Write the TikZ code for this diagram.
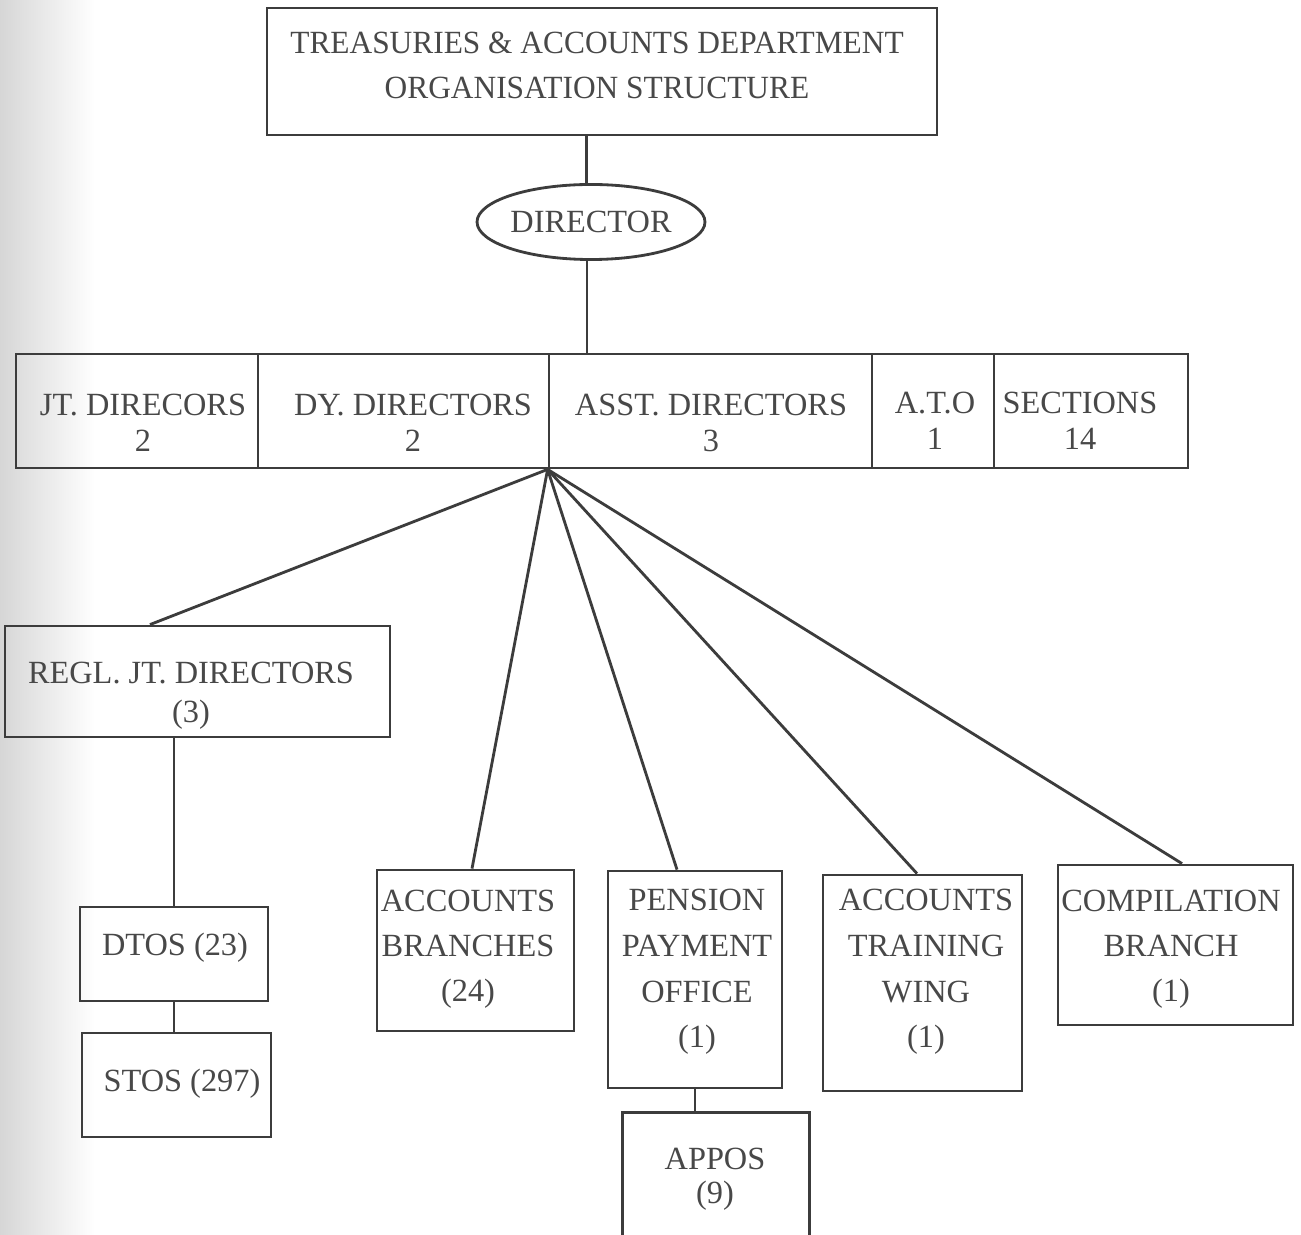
\documentclass[tikz,border=0pt]{standalone}
\usepackage{fontspec}
\setmainfont{Liberation Serif}
\newfontfamily\titlefont[FakeStretch=0.97]{Liberation Serif}
\usetikzlibrary{fit,shapes.geometric}
\definecolor{ink}{HTML}{3C3C3C}
\definecolor{txt}{HTML}{484848}
\begin{document}
\begin{tikzpicture}[x=0.01cm,y=-0.01cm,
  boxn/.style={draw=ink, line width=0.8pt, inner sep=0pt, fit={#1}},
  openbox/.style={inner sep=0pt, fit={#1}},
  lbl/.style={text=txt, align=center, inner sep=0pt, font=\fontsize{9.2}{#1}\selectfont},
  lbl/.default=12.8pt,
  conn/.style={draw=ink, line width=0.8pt}]
\useasboundingbox (0,0) rectangle (1301,1234);
\fill[white] (0,0) rectangle (1301,1234);
\shade[left color=black!16, right color=white] (0,0) rectangle (95,1234);

% title
\node[boxn={(267,8) (937,135)}] (title) {};
\node[lbl, font=\titlefont\fontsize{9.2}{12.8pt}\selectfont] (titlet) at (597,65) {TREASURIES \& ACCOUNTS DEPARTMENT\\ORGANISATION STRUCTURE};

% director
\node[ellipse, draw=ink, line width=0.8pt, minimum width=2.21cm, minimum height=0.75cm, lbl] (dir) at (591,222) {DIRECTOR};

% row of cells
\node[boxn={(16,354) (258,468)}] (jt) {};
\node[boxn={(258,354) (549,468)}] (dy) {};
\node[boxn={(549,354) (872,468)}] (asst) {};
\node[boxn={(872,354) (994,468)}] (ato) {};
\node[boxn={(994,354) (1188,468)}] (sec) {};
\node[lbl=10.2pt] (jtt) at (143,423) {JT. DIRECORS\\2};
\node[lbl=10.2pt] (dyt) at (413,423) {DY. DIRECTORS\\2};
\node[lbl=10.2pt] (asstt) at (711,423) {ASST. DIRECTORS\\3};
\node[lbl=10.2pt] (atot) at (935,421) {A.T.O\\1};
\node[lbl=10.2pt] (sect) at (1080,421) {SECTIONS\\14};

% lower boxes
\node[boxn={(5,626) (390,737)}] (regl) {};
\node[lbl=11pt] (reglt) at (191,696) {REGL. JT. DIRECTORS\\(3)};
\node[boxn={(80,907) (268,1001)}] (dtos) {};
\node[lbl] (dtost) at (175,948) {DTOS (23)};
\node[boxn={(82,1033) (271,1137)}] (stos) {};
\node[lbl] (stost) at (182,1084) {STOS (297)};

\node[boxn={(377,870) (574,1031)}] (acc) {};
\node[lbl] (acct) at (468,949) {ACCOUNTS\\BRANCHES\\(24)};
\node[boxn={(608,871) (782,1088)}] (pen) {};
\node[lbl=13pt] (pent) at (697,972) {PENSION\\PAYMENT\\OFFICE\\(1)};
\node[openbox={(623,1113) (809,1234)}] (appos) {};
\node[lbl=9.8pt] (appost) at (715,1179) {APPOS\\(9)};
\node[boxn={(823,875) (1022,1091)}] (trn) {};
\node[lbl=13pt] (trnt) at (926,972) {ACCOUNTS\\TRAINING\\WING\\(1)};
\node[boxn={(1058,865) (1293,1025)}] (comp) {};
\node[lbl] (compt) at (1171,949) {COMPILATION\\BRANCH\\(1)};

% connectors
\draw[conn] ([xshift=-0.045cm]dir.north |- title.south) -- ([xshift=-0.045cm]dir.north);
\draw[conn] ([xshift=-0.04cm]dir.south) -- ([xshift=-0.04cm]dir.south |- dy.north);
\draw[conn] (asst.south west) -- ([xshift=-0.475cm]regl.north);
\draw[conn] (asst.south west) -- ([xshift=-0.035cm]acc.north);
\draw[conn] (asst.south west) -- ([xshift=-0.18cm]pen.north);
\draw[conn] (asst.south west) -- ([xshift=-0.055cm]trn.north);
\draw[conn] (asst.south west) -- ([xshift=0.065cm]comp.north);
\draw[conn] (dtos.north |- regl.south) -- (dtos.north);
\draw[conn] (dtos.south) -- (dtos.south |- stos.north);
\draw[conn] (pen.south) -- (pen.south |- appos.north);
\draw[conn] (appos.south west) -- (appos.north west) -- (appos.north east) -- (appos.south east);
\end{tikzpicture}
\end{document}
